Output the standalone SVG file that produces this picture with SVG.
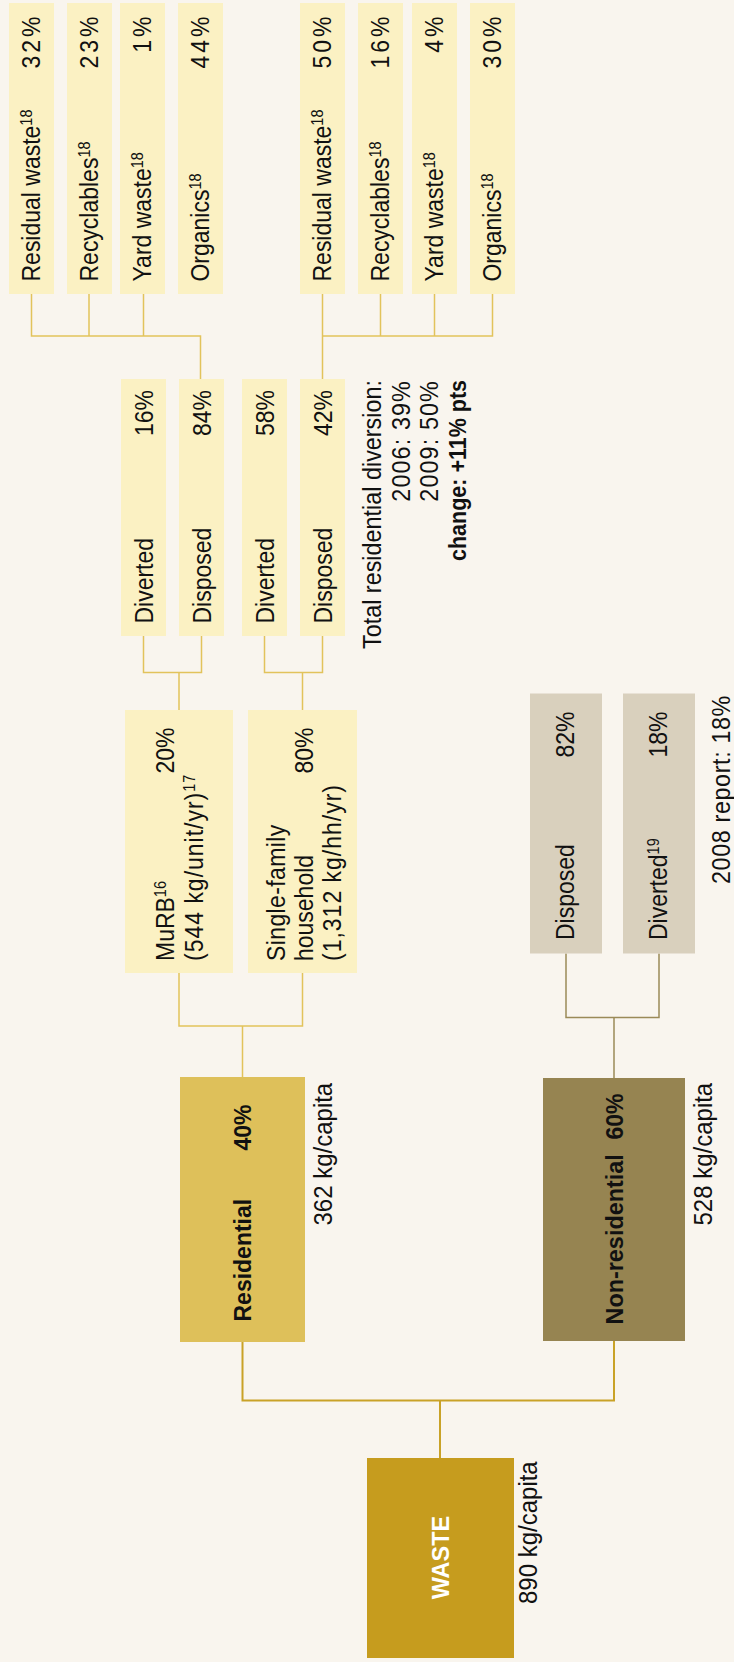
<svg xmlns="http://www.w3.org/2000/svg" width="734" height="1662" viewBox="0 0 734 1662">
  <style>
    .t { font-family: "Liberation Sans", Arial, sans-serif; font-size: 23px; fill: #111; }
    .b { font-weight: bold; }
    .e { text-anchor: end; }
    .m { text-anchor: middle; }
    .sp { letter-spacing: 3px; }
    .wide { letter-spacing: 1px; }
    .note { font-size: 23.4px; }
    .sup { font-size: 14.5px; }
    .light { fill: #FBF1C3; }
    .beige { fill: #D9D0BD; }
    .res { fill: #DEC05A; }
    .nonres { fill: #968451; }
    .waste { fill: #C69C1E; }
    .c1 { fill: none; stroke: #E2C35B; stroke-width: 1.5; }
    .c2 { fill: none; stroke: #9B8A58; stroke-width: 1.5; }
    .c3 { fill: none; stroke: #C9A227; stroke-width: 2; }
  </style>
  <rect x="0" y="0" width="734" height="1662" fill="#F9F5EE"/>

  <!-- connectors -->
  <g id="connectors">
    <path class="c1" d="M31.5 294V336H200.5V379M89 294V336M143.5 294V336"/>
    <path class="c1" d="M322.5 294V336H492.5V294M380.5 294V336M434.5 294V336M322.5 336V379"/>
    <path class="c1" d="M143.5 636V672.5H201.5V636M179 672.5V710"/>
    <path class="c1" d="M264.5 636V672.5H322.5V636M302.5 672.5V710"/>
    <path class="c1" d="M179 973V1026H302.5V973M242.5 1026V1077"/>
    <path class="c2" d="M566 953.5V1017.5H659V953.5M614 1017.5V1078"/>
    <path class="c3" d="M242.5 1342V1400.5H614V1341M440 1400.5V1458"/>
  </g>

  <!-- MuRB stream breakdown -->
  <g id="murb-residual">
    <rect class="light" x="9" y="3" width="45" height="291"/>
    <text class="t" transform="translate(40 281.5) rotate(-90) scale(1 1.1)">Residual waste<tspan class="sup" dy="-7">18</tspan></text>
    <text class="t e sp" transform="translate(40 13.5) rotate(-90) scale(1 1.1)">32%</text>
  </g>
  <g id="murb-recyclables">
    <rect class="light" x="67" y="3" width="45" height="291"/>
    <text class="t" transform="translate(98 281.5) rotate(-90) scale(1 1.1)">Recyclables<tspan class="sup" dy="-7">18</tspan></text>
    <text class="t e sp" transform="translate(98 13.5) rotate(-90) scale(1 1.1)">23%</text>
  </g>
  <g id="murb-yard">
    <rect class="light" x="120" y="3" width="45" height="291"/>
    <text class="t" transform="translate(151 281.5) rotate(-90) scale(1 1.1)">Yard waste<tspan class="sup" dy="-7">18</tspan></text>
    <text class="t e sp" transform="translate(151 13.5) rotate(-90) scale(1 1.1)">1%</text>
  </g>
  <g id="murb-organics">
    <rect class="light" x="178" y="3" width="45" height="291"/>
    <text class="t" transform="translate(209 281.5) rotate(-90) scale(1 1.1)">Organics<tspan class="sup" dy="-7">18</tspan></text>
    <text class="t e sp" transform="translate(209 13.5) rotate(-90) scale(1 1.1)">44%</text>
  </g>

  <!-- single-family stream breakdown -->
  <g id="sfh-residual">
    <rect class="light" x="300" y="3" width="45" height="291"/>
    <text class="t" transform="translate(331 281.5) rotate(-90) scale(1 1.1)">Residual waste<tspan class="sup" dy="-7">18</tspan></text>
    <text class="t e sp" transform="translate(331 13.5) rotate(-90) scale(1 1.1)">50%</text>
  </g>
  <g id="sfh-recyclables">
    <rect class="light" x="358" y="3" width="45" height="291"/>
    <text class="t" transform="translate(389 281.5) rotate(-90) scale(1 1.1)">Recyclables<tspan class="sup" dy="-7">18</tspan></text>
    <text class="t e sp" transform="translate(389 13.5) rotate(-90) scale(1 1.1)">16%</text>
  </g>
  <g id="sfh-yard">
    <rect class="light" x="412" y="3" width="45" height="291"/>
    <text class="t" transform="translate(443 281.5) rotate(-90) scale(1 1.1)">Yard waste<tspan class="sup" dy="-7">18</tspan></text>
    <text class="t e sp" transform="translate(443 13.5) rotate(-90) scale(1 1.1)">4%</text>
  </g>
  <g id="sfh-organics">
    <rect class="light" x="470" y="3" width="45" height="291"/>
    <text class="t" transform="translate(501 281.5) rotate(-90) scale(1 1.1)">Organics<tspan class="sup" dy="-7">18</tspan></text>
    <text class="t e sp" transform="translate(501 13.5) rotate(-90) scale(1 1.1)">30%</text>
  </g>

  <!-- diverted / disposed splits -->
  <g id="murb-diverted">
    <rect class="light" x="121" y="379" width="45" height="257"/>
    <text class="t" transform="translate(152.5 623.5) rotate(-90) scale(1 1.1)">Diverted</text>
    <text class="t e" transform="translate(152.5 390) rotate(-90) scale(1 1.1)">16%</text>
  </g>
  <g id="murb-disposed">
    <rect class="light" x="179" y="379" width="45" height="257"/>
    <text class="t" transform="translate(210.5 623.5) rotate(-90) scale(1 1.1)">Disposed</text>
    <text class="t e" transform="translate(210.5 390) rotate(-90) scale(1 1.1)">84%</text>
  </g>
  <g id="sfh-diverted">
    <rect class="light" x="242" y="379" width="45" height="257"/>
    <text class="t" transform="translate(273.5 623.5) rotate(-90) scale(1 1.1)">Diverted</text>
    <text class="t e" transform="translate(273.5 390) rotate(-90) scale(1 1.1)">58%</text>
  </g>
  <g id="sfh-disposed">
    <rect class="light" x="300" y="379" width="45" height="257"/>
    <text class="t" transform="translate(331.5 623.5) rotate(-90) scale(1 1.1)">Disposed</text>
    <text class="t e" transform="translate(331.5 390) rotate(-90) scale(1 1.1)">42%</text>
  </g>

  <g id="diversion-note">
    <text class="t e note" transform="translate(381 380) rotate(-90) scale(1 1.1)">Total residential diversion:</text>
    <text class="t e note" transform="translate(410 380) rotate(-90) scale(1 1.1)" style="letter-spacing:1.1px">2006: 39%</text>
    <text class="t e note" transform="translate(437.5 380) rotate(-90) scale(1 1.1)" style="letter-spacing:1.1px">2009: 50%</text>
    <text class="t e b" transform="translate(466 380) rotate(-90) scale(1 1.1)" style="font-size:21.5px">change: +11% pts</text>
  </g>

  <!-- household types -->
  <g id="murb">
    <rect class="light" x="125" y="710" width="108" height="263"/>
    <text class="t" transform="translate(174 961) rotate(-90) scale(1 1.1)">MuRB<tspan class="sup" dy="-7">16</tspan></text>
    <text class="t wide" transform="translate(202.5 961) rotate(-90) scale(1 1.1)">(544 kg/unit/yr)<tspan class="sup" dy="-7">17</tspan></text>
    <text class="t e" transform="translate(174 727.5) rotate(-90) scale(1 1.1)">20%</text>
  </g>
  <g id="single-family">
    <rect class="light" x="248" y="710" width="109" height="263"/>
    <text class="t" transform="translate(284.5 961) rotate(-90) scale(1 1.1)" style="letter-spacing:0.4px">Single-family</text>
    <text class="t" transform="translate(313 961) rotate(-90) scale(1 1.1)">household</text>
    <text class="t wide" transform="translate(341 961) rotate(-90) scale(1 1.1)">(1,312 kg/hh/yr)</text>
    <text class="t e" transform="translate(313 727.5) rotate(-90) scale(1 1.1)">80%</text>
  </g>

  <!-- non-residential split -->
  <g id="nonres-disposed">
    <rect class="beige" x="530" y="693.5" width="72" height="260"/>
    <text class="t" transform="translate(574 940) rotate(-90) scale(1 1.1)">Disposed</text>
    <text class="t e" transform="translate(574 711.5) rotate(-90) scale(1 1.1)">82%</text>
  </g>
  <g id="nonres-diverted">
    <rect class="beige" x="623" y="693.5" width="72" height="260"/>
    <text class="t" transform="translate(666.5 940) rotate(-90) scale(1 1.1)">Diverted<tspan class="sup" dy="-7">19</tspan></text>
    <text class="t e" transform="translate(666.5 711.5) rotate(-90) scale(1 1.1)">18%</text>
  </g>
  <g id="report-note">
    <text class="t e note" transform="translate(730 695) rotate(-90) scale(1 1.1)" style="letter-spacing:0.6px">2008 report: 18%</text>
  </g>

  <!-- sectors -->
  <g id="residential">
    <rect class="res" x="180" y="1077" width="125" height="265"/>
    <text class="t b" transform="translate(251 1321.5) rotate(-90) scale(1 1.05)">Residential</text>
    <text class="t b e" transform="translate(251 1104.5) rotate(-90) scale(1 1.05)">40%</text>
    <text class="t" transform="translate(331.5 1225.5) rotate(-90) scale(1 1.08)" style="font-size:24px">362 kg/capita</text>
  </g>
  <g id="non-residential">
    <rect class="nonres" x="543" y="1078" width="142" height="263"/>
    <text class="t b" transform="translate(622.5 1324.5) rotate(-90) scale(1 1.05)" style="font-size:23.4px">Non-residential</text>
    <text class="t b e" transform="translate(622.5 1093.5) rotate(-90) scale(1 1.05)">60%</text>
    <text class="t" transform="translate(711.5 1225.5) rotate(-90) scale(1 1.08)" style="font-size:24px">528 kg/capita</text>
  </g>

  <!-- total -->
  <g id="waste">
    <rect class="waste" x="367" y="1458" width="147" height="200"/>
    <text class="t b m" transform="translate(448.5 1557.5) rotate(-90) scale(1 1.05)" style="fill:#fff;font-size:23.5px">WASTE</text>
    <text class="t" transform="translate(536.5 1604) rotate(-90) scale(1 1.08)" style="font-size:24px">890 kg/capita</text>
  </g>
</svg>
